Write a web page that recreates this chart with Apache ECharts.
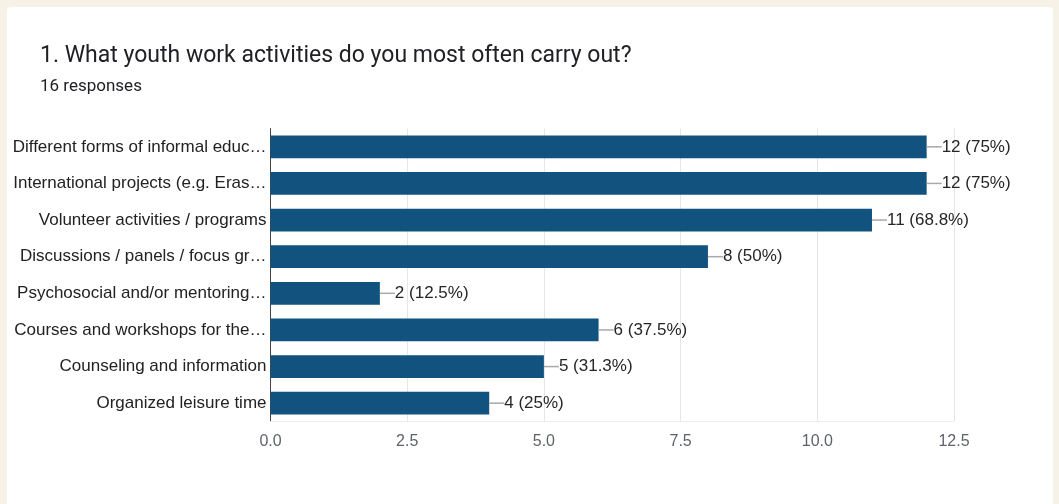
<!DOCTYPE html>
<html><head><meta charset="utf-8">
<script src="https://cdn.jsdelivr.net/npm/echarts@6/dist/echarts.min.js"></script>
<style>html,body{margin:0;padding:0;background:#f6f2e8;}#c{width:1059px;height:504px;}</style>
</head><body><div id="c"></div>
<script>
const titleText = '1. What youth work activities do you most often carry out?';
const subtitleText = '16 responses';
const categories = [
  'Different forms of informal educ…',
  'International projects (e.g. Eras…',
  'Volunteer activities / programs',
  'Discussions / panels / focus gr…',
  'Psychosocial and/or mentoring…',
  'Courses and workshops for the…',
  'Counseling and information',
  'Organized leisure time'
];
const counts = [12, 12, 11, 8, 2, 6, 5, 4];
const percents = ['75%', '75%', '68.8%', '50%', '12.5%', '37.5%', '31.3%', '25%'];
const xTicks = [0, 2.5, 5, 7.5, 10, 12.5];

const chart = echarts.init(document.getElementById('c'), null, {renderer: 'canvas'});
chart.setOption({
  backgroundColor: '#f6f2e8',
  animation: false,
  graphic: [
    {type: 'rect', shape: {x: 7, y: 7, width: 1046, height: 505, r: 4}, style: {fill: '#ffffff'}, z: -10},
    {type: 'text', left: 40, top: 45, style: {text: titleText, font: '23px Roboto', fill: '#202124'}},
    {type: 'text', left: 40, top: 78, style: {text: subtitleText, font: '17px Roboto', fill: '#202124'}}
  ],
  grid: {left: 270.5, right: 1059 - 954, top: 128.5, bottom: 504 - 421.5, containLabel: false},
  xAxis: {
    type: 'value', min: 0, max: 12.5, interval: 2.5,
    axisLine: {show: true, lineStyle: {color: '#eeeeee'}},
    axisTick: {show: false},
    splitLine: {show: true, lineStyle: {color: '#e6e6e6', width: 1}},
    axisLabel: {color: '#5f6368', fontSize: 16, fontFamily: 'Liberation Sans, Arial', margin: 12,
      formatter: v => v.toFixed(1)}
  },
  yAxis: {
    type: 'category', data: categories, inverse: true,
    axisLine: {show: true, lineStyle: {color: '#444444', width: 1}},
    axisTick: {show: false},
    axisLabel: {color: '#222222', fontSize: 17, fontFamily: 'Liberation Sans, Arial', margin: 4}
  },
  series: [{
    type: 'bar', data: counts, barWidth: '62%',
    itemStyle: {color: '#11527f'},
    label: {
      show: true, position: 'right', distance: 0,
      formatter: p => '{l|}{t|' + counts[p.dataIndex] + ' (' + percents[p.dataIndex] + ')}',
      rich: {
        l: {width: 15, height: 1.5, backgroundColor: '#a8a8a8'},
        t: {color: '#262626', fontSize: 17, fontFamily: 'Liberation Sans, Arial', padding: [0, 0, 0, 0]}
      }
    }
  }]
});
</script></body></html>
